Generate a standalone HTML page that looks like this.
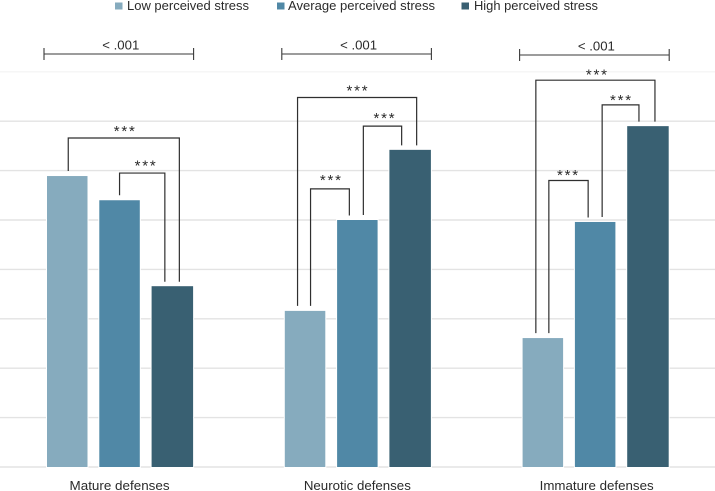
<!DOCTYPE html>
<html>
<head>
<meta charset="utf-8">
<style>
html,body{margin:0;padding:0;background:#fff;width:715px;height:491px;overflow:hidden}
svg{display:block}
text{font-family:"Liberation Sans",sans-serif;fill:#2b2b2b}
</style>
</head>
<body>
<svg id="chart" width="715" height="491" viewBox="0 0 715 491" xmlns="http://www.w3.org/2000/svg"></svg>
<script>
const categories = ['Mature defenses', 'Neurotic defenses', 'Immature defenses'];
const seriesNames = ['Low perceived stress', 'Average perceived stress', 'High perceived stress'];
const lowStress = [5.89, 3.16, 2.61];
const averageStress = [5.40, 5.00, 4.96];
const highStress = [3.66, 6.42, 6.90];
const gridTicks = [0, 1, 2, 3, 4, 5, 6, 7, 8];
const pLabels = ['< .001', '< .001', '< .001'];
const sigLabel = '***';
// group, from-series, to-series, bracket height in axis units
const bracketGroups = [0, 0, 1, 1, 1, 2, 2, 2];
const bracketFrom = [0, 1, 0, 0, 1, 0, 0, 1];
const bracketTo = [2, 2, 2, 1, 2, 2, 1, 2];
const bracketLevels = [6.66, 5.95, 7.48, 5.63, 6.90, 7.83, 5.80, 7.33];

const seriesValues = [lowStress, averageStress, highStress];
const colors = ['#86abbe', '#5088a6', '#396072'];
const svgNS = 'http://www.w3.org/2000/svg';
const svg = document.getElementById('chart');

const baseY = 467, unit = 49.4;
function yScale(v) { return baseY - v * unit; }
function barLeft(g, s) { return 47 + g * 237.8 + s * 52.3; }
function barWidth(s) { return s === 2 ? 41.5 : 40.5; }
function barCenter(g, s) { return barLeft(g, s) + barWidth(s) / 2; }

function make(tag, attrs, parent) {
  const el = document.createElementNS(svgNS, tag);
  for (const k in attrs) el.setAttribute(k, attrs[k]);
  (parent || svg).appendChild(el);
  return el;
}

// gridlines
gridTicks.forEach(function (t) {
  const top = t === gridTicks[gridTicks.length - 1];
  const line = make('line', {
    x1: 0, x2: 715, y1: yScale(t), y2: yScale(t),
    stroke: top ? '#f5f5f5' : '#e3e3e3', 'stroke-width': 1.4
  });
  
  
});

// bars
categories.forEach(function (c, g) {
  seriesValues.forEach(function (vals, s) {
    const bar = make('rect', {
      x: barLeft(g, s), y: yScale(vals[g]),
      width: barWidth(s), height: baseY - yScale(vals[g]),
      fill: colors[s], stroke: '#fff', 'stroke-width': 2, 'paint-order': 'stroke'
    });
    
    
  });
});

// category labels
const catLabelWidths = [100, 107, 114];
categories.forEach(function (c, g) {
  const cx = barCenter(g, 1) + [0, 0, 1.5][g];
  const label = make('text', {
    x: cx, y: 490, 'text-anchor': 'middle', 'font-size': 12.5,
    textLength: catLabelWidths[g], lengthAdjust: 'spacingAndGlyphs'
  });
  label.textContent = c;
  
  
});

// legend
const legendSwatchX = [115, 277, 461.5];
const legendTextX = [127, 288, 474];
const legendTextW = [122, 147, 124];
seriesNames.forEach(function (n, s) {
  const sw = make('rect', { x: legendSwatchX[s], y: 2.5, width: 7.5, height: 7, fill: colors[s] });
  
  
  const t = make('text', {
    x: legendTextX[s], y: 10, 'font-size': 12.5,
    textLength: legendTextW[s], lengthAdjust: 'spacingAndGlyphs'
  });
  t.textContent = n;
  
  
});

// overall p-value range brackets
const rangeY = [54, 54, 55];
pLabels.forEach(function (p, g) {
  const x1 = barLeft(g, 0) - 3;
  const x2 = barLeft(g, 2) + barWidth(2) + 0.5;
  const d = 'M' + x1 + ' ' + (rangeY[g] - 6) + 'V' + (rangeY[g] + 6) +
    'M' + x1 + ' ' + rangeY[g] + 'H' + x2 +
    'M' + x2 + ' ' + (rangeY[g] - 6) + 'V' + (rangeY[g] + 6);
  const path = make('path', { d: d, fill: 'none', stroke: '#3a3a3a', 'stroke-width': 1.1 });
  
  
  const t = make('text', {
    x: (x1 + x2) / 2 + 2, y: rangeY[g] - 4.5, 'text-anchor': 'middle', 'font-size': 12.5,
    textLength: 37, lengthAdjust: 'spacingAndGlyphs'
  });
  t.textContent = p;
  
  
});

// pairwise significance brackets (nudges keep legs and stars from colliding)
const legNudgeFrom = [1, 0, -7.5, 5.5, 6, -7, 6, 7];
const legNudgeTo = [7, -7.5, 6.5, -8, -8.5, 7, -7, -9];
const starNudgeX = [0.5, 3, 0, 0.5, 1.5, 1, -1, 0];
const starLift = [1, 1.5, 1, 3, 2, -0.5, -0.5, -1];
bracketLevels.forEach(function (level, i) {
  const g = bracketGroups[i], a = bracketFrom[i], b = bracketTo[i];
  const x1 = barCenter(g, a) + legNudgeFrom[i];
  const x2 = barCenter(g, b) + legNudgeTo[i];
  const top = yScale(level);
  const y1 = yScale(seriesValues[a][g]) - 5;
  const y2 = yScale(seriesValues[b][g]) - 4.5;
  const path = make('path', {
    d: 'M' + x1 + ' ' + y1 + 'V' + top + 'H' + x2 + 'V' + y2,
    fill: 'none', stroke: '#2f2f2f', 'stroke-width': 1.2
  });
  
  
  const star = make('text', {
    x: (x1 + x2) / 2 + starNudgeX[i] + 0.9, y: top - 1 - starLift[i], 'text-anchor': 'middle', 'font-size': 15,
    'letter-spacing': 1.8
  });
  star.textContent = sigLabel;
  
  
});
</script>
</body>
</html>
